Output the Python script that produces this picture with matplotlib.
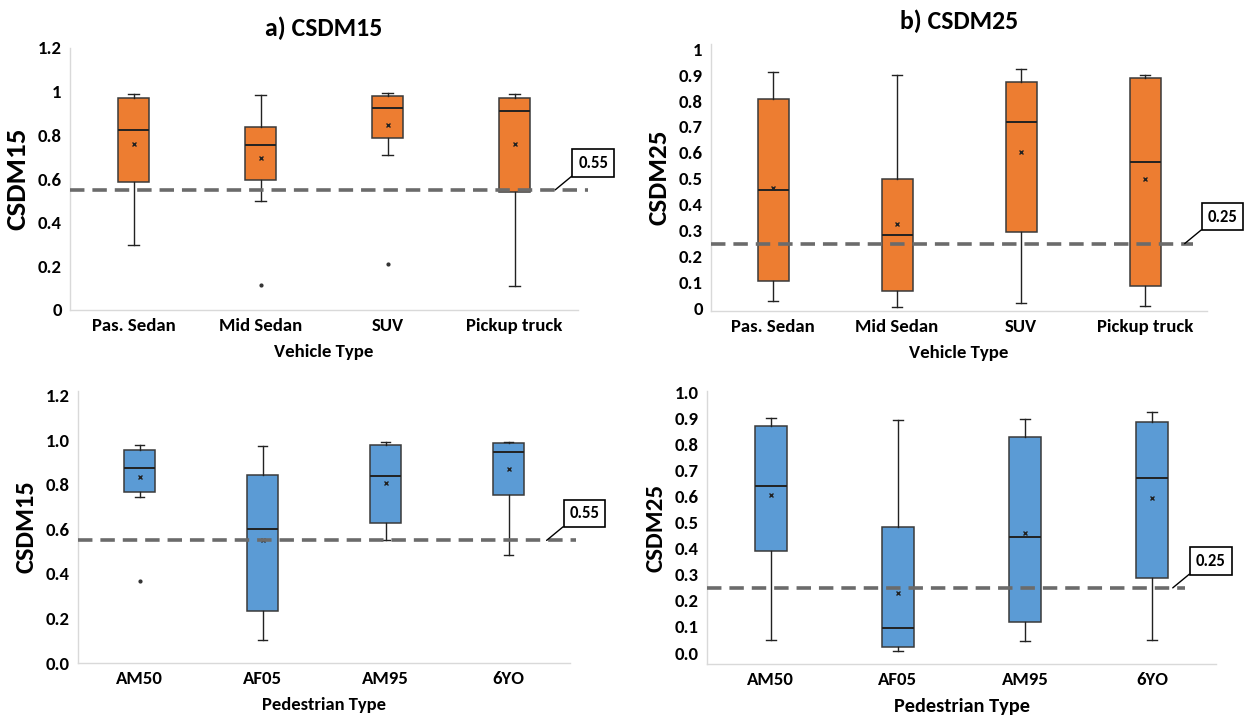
import numpy as np
import matplotlib
matplotlib.use("Agg")
import matplotlib.pyplot as plt

plt.rcParams['font.family'] = ['Carlito', 'DejaVu Sans']
plt.rcParams['font.weight'] = 'bold'

vehicles = ["Pas. Sedan", "Mid Sedan", "SUV", "Pickup truck"]
pedestrians = ["AM50", "AF05", "AM95", "6YO"]

# CSDM15 by vehicle type
v15_low = [0.300, 0.500, 0.709, 0.108]
v15_q1 = [0.587, 0.596, 0.788, 0.541]
v15_med = [0.825, 0.755, 0.926, 0.910]
v15_q3 = [0.970, 0.839, 0.980, 0.970]
v15_high = [0.990, 0.984, 0.993, 0.990]
v15_mean = [0.761, 0.698, 0.846, 0.761]
v15_out = [[], [0.113], [0.212], []]

# CSDM25 by vehicle type
v25_low = [0.027, 0.006, 0.019, 0.009]
v25_q1 = [0.107, 0.067, 0.293, 0.085]
v25_med = [0.458, 0.284, 0.721, 0.563]
v25_q3 = [0.808, 0.500, 0.874, 0.889]
v25_high = [0.913, 0.901, 0.923, 0.901]
v25_mean = [0.463, 0.325, 0.605, 0.499]
v25_out = [[], [], [], []]

# CSDM15 by pedestrian type
p15_low = [0.744, 0.105, 0.551, 0.486]
p15_q1 = [0.767, 0.233, 0.630, 0.754]
p15_med = [0.873, 0.603, 0.840, 0.945]
p15_q3 = [0.954, 0.844, 0.978, 0.988]
p15_high = [0.978, 0.973, 0.990, 0.993]
p15_mean = [0.836, 0.551, 0.809, 0.868]
p15_out = [[0.370], [], [], []]

# CSDM25 by pedestrian type
p25_low = [0.049, 0.008, 0.045, 0.051]
p25_q1 = [0.390, 0.024, 0.120, 0.286]
p25_med = [0.641, 0.097, 0.444, 0.670]
p25_q3 = [0.872, 0.483, 0.830, 0.886]
p25_high = [0.900, 0.894, 0.898, 0.923]
p25_mean = [0.605, 0.231, 0.462, 0.596]
p25_out = [[], [], [], []]

thr15 = 0.55
thr25 = 0.25

ORANGE = "#ED7D31"
BLUE = "#5B9BD5"

W, H = 1249, 717
fig = plt.figure(figsize=(W / 100, H / 100), dpi=100)


def px_axes(left, top, right, bottom):
    return fig.add_axes([left / W, 1 - bottom / H, (right - left) / W, (bottom - top) / H])


def make_stats(low, q1, med, q3, high, mean, out):
    return [dict(whislo=a, q1=b, med=c, q3=d, whishi=e, mean=f, fliers=g)
            for a, b, c, d, e, f, g in zip(low, q1, med, q3, high, mean, out)]


def draw_panel(ax, stats, labels, color, ylim, yticks, yfmt, ylabel, ylabel_size,
               xlabel, xlabel_size, thr, line_end, call_x):
    ax.bxp(stats, positions=range(1, 5), widths=0.25, capwidths=0.08,
           showmeans=True, patch_artist=True,
           boxprops=dict(facecolor=color, edgecolor="#3a3a3a", linewidth=1.1),
           medianprops=dict(color="#222222", linewidth=1.4),
           whiskerprops=dict(color="#222222", linewidth=1.0),
           capprops=dict(color="#222222", linewidth=1.0),
           meanprops=dict(marker="x", markersize=3.5, markeredgecolor="#222222",
                          markeredgewidth=1.0),
           flierprops=dict(marker="o", markersize=2, markerfacecolor="#333333",
                           markeredgecolor="#333333"))
    ax.set_xlim(0.5, 4.5)
    ax.set_ylim(*ylim)
    ax.set_yticks(yticks)
    ax.set_yticklabels([yfmt(t) for t in yticks], fontsize=13.5, fontweight='bold')
    ax.set_xticks(range(1, 5))
    ax.set_xticklabels(labels, fontsize=13.5, fontweight='bold')
    ax.tick_params(length=0, pad=6)
    for s in ("top", "right"):
        ax.spines[s].set_visible(False)
    for s in ("left", "bottom"):
        ax.spines[s].set_color("#d9d9d9")
        ax.spines[s].set_linewidth(1.0)
    ax.set_ylabel(ylabel, fontsize=ylabel_size, fontweight='bold', labelpad=6)
    ax.set_xlabel(xlabel, fontsize=xlabel_size, fontweight='bold', labelpad=7)

    # threshold line with callout label
    ax.plot([0.5, line_end], [thr, thr], ls=(0, (4, 2.2)), color="#6b6b6b",
            lw=2.6, clip_on=False, zorder=5)
    ax.annotate(f"{thr:.2f}", xy=(call_x, thr), xytext=(38, 27),
                textcoords="offset pixels", ha="center", va="center",
                fontsize=12, fontweight='bold',
                bbox=dict(boxstyle="square,pad=0.35", fc="white", ec="black", lw=1.2),
                arrowprops=dict(arrowstyle="-", color="black", lw=1.0,
                                relpos=(0, 0), shrinkA=0, shrinkB=0),
                annotation_clip=False, zorder=6)


def fmt_g(v):
    return f"{v:g}"


def fmt_1(v):
    return f"{v:.1f}"


ax_a = px_axes(70, 48, 578, 310)
draw_panel(ax_a, make_stats(v15_low, v15_q1, v15_med, v15_q3, v15_high, v15_mean, v15_out),
           vehicles, ORANGE, (0, 1.2), np.arange(0, 1.21, 0.2), fmt_g,
           "CSDM15", 21, "Vehicle Type", 13.5, thr15, 4.58, 4.32)
ax_a.set_title("a) CSDM15", fontsize=18.5, fontweight='bold', pad=9)

ax_b = px_axes(711, 44, 1207, 311)
draw_panel(ax_b, make_stats(v25_low, v25_q1, v25_med, v25_q3, v25_high, v25_mean, v25_out),
           vehicles, ORANGE, (-0.01, 1.02), np.arange(0, 1.01, 0.1), fmt_g,
           "CSDM25", 19.5, "Vehicle Type", 13.5, thr25, 4.39, 4.32)
ax_b.set_title("b) CSDM25", fontsize=18.5, fontweight='bold', pad=11)

ax_c = px_axes(78, 391, 570, 663)
draw_panel(ax_c, make_stats(p15_low, p15_q1, p15_med, p15_q3, p15_high, p15_mean, p15_out),
           pedestrians, BLUE, (0, 1.22), np.arange(0, 1.21, 0.2), fmt_1,
           "CSDM15", 19, "Pedestrian Type", 13.3, thr15, 4.55, 4.31)

ax_d = px_axes(707, 391, 1216, 664)
draw_panel(ax_d, make_stats(p25_low, p25_q1, p25_med, p25_q3, p25_high, p25_mean, p25_out),
           pedestrians, BLUE, (-0.042, 1.005), np.arange(0, 1.01, 0.1), fmt_1,
           "CSDM25", 18, "Pedestrian Type", 14.7, thr25, 4.26, 4.16)

fig.savefig("out.png", dpi=100)
